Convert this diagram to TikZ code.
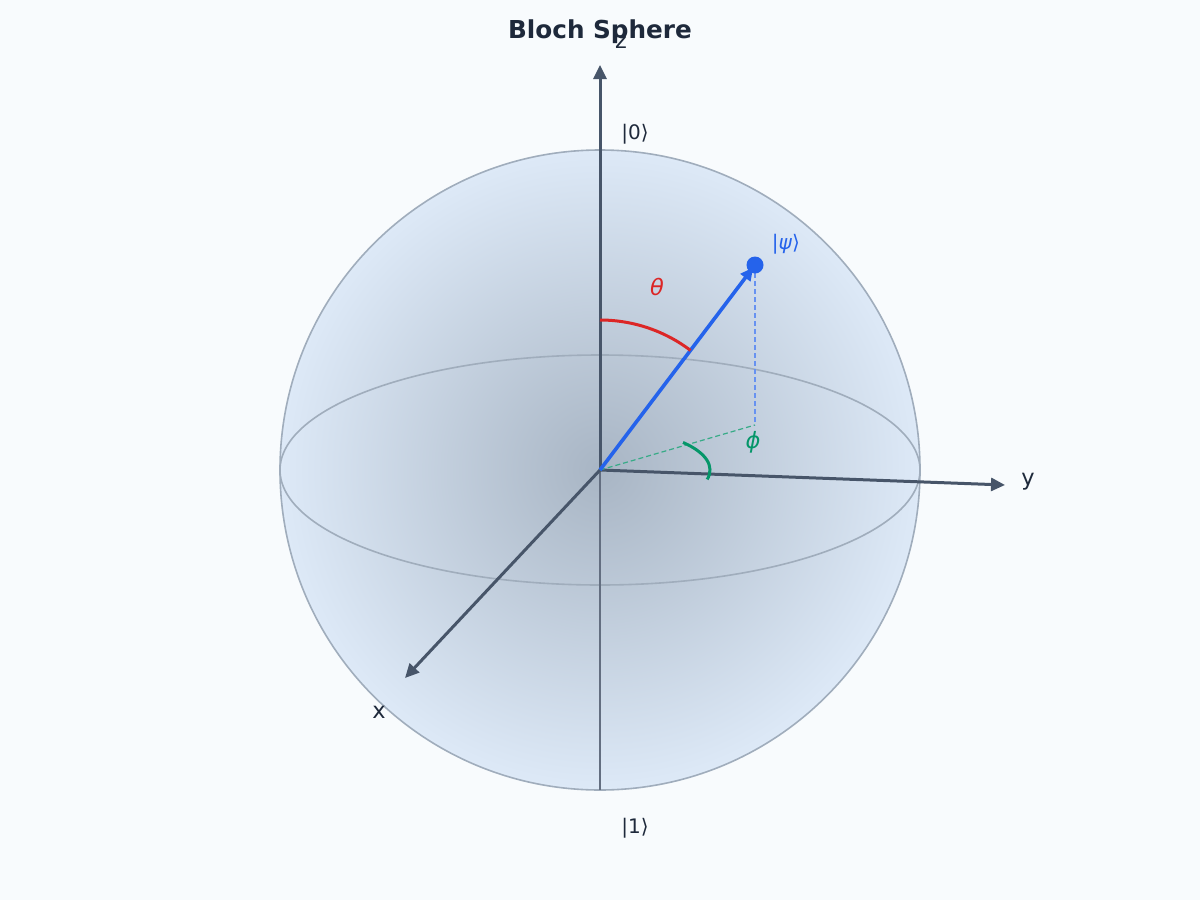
\documentclass[tikz,border=0pt]{standalone}
\usepackage{fontspec}
\setmainfont{DejaVu Sans}
\usetikzlibrary{arrows.meta,calc}

\definecolor{fundo}{HTML}{F8FBFD}
\definecolor{eixocor}{HTML}{475569}
\definecolor{bordacor}{HTML}{A0ADBC}
\definecolor{textocor}{HTML}{1E293B}
\definecolor{psicor}{HTML}{2563EB}
\definecolor{thetacor}{HTML}{DC2626}
\definecolor{phicor}{HTML}{059669}

\tikzset{
  eixo/.style={line width=3pt, draw=eixocor, -{Triangle[length=14pt,width=13pt]}},
  rotulo/.style={text=textocor, font=\fontsize{22.5}{26}\selectfont},
  ket/.style={text=textocor, font=\fontsize{20}{24}\selectfont}
}

\begin{document}
\begin{tikzpicture}[x=1pt, y=-1pt]
	% o fundo e a esfera
		\useasboundingbox[fill=fundo] (0,0) rectangle (1200,900);
		\coordinate (O) at (600,470);
		\shade[inner color={rgb,255:red,168;green,181;blue,196}, outer color={rgb,255:red,221;green,233;blue,247}]
			(O) circle (320);
		\draw[bordacor, line width=1.6pt] (O) circle (320);
		\draw[bordacor, line width=1.6pt] (O) ellipse (320 and 115);
		\coordinate (fundoEsfera) at (600,790);
		\draw[eixocor!85, line width=1.4pt] (O) -- (fundoEsfera);

	% os eixos
		\coordinate (zTopo) at (600,65);
		\coordinate (yPonta) at (1005,485);
		\coordinate (xPonta) at (405,678);
		\draw[eixo] (O) -- (zTopo);
		\draw[eixo] (O) -- (yPonta);
		\draw[eixo] (O) -- (xPonta);
		\node[rotulo] (zRot) at (621,42) {z};
		\node[rotulo] (yRot) at (1028,482) {y};
		\node[rotulo] (xRot) at (379,712) {x};
		\node[ket] (ket0) at (635,134) {|0⟩};
		\node[ket] (ket1) at (635,828) {|1⟩};

	% o vetor de estado e os angulos
		\coordinate (psi) at (755,265);
		\coordinate (proj) at (755,425);
		\draw[psicor!70, dashed, line width=1.2pt, dash pattern=on 5pt off 3pt] (psi) -- (proj);
		\draw[phicor!80, dashed, line width=1.2pt, dash pattern=on 5pt off 3pt] (O) -- (proj);
		\draw[psicor, line width=3.6pt, -{Triangle[length=13pt,width=12pt]}, shorten >=3pt] (O) -- (psi);
		\fill[psicor] (psi) circle (8.5);
		\node[ket, text=psicor] (psiRot) at (786,244) {|\textit{ψ}⟩};
		\draw[thetacor, line width=3pt] (600,320) arc (-90:-52.9:150);
		\node[rotulo, text=thetacor] (thetaRot) at (657,287) {\textit{θ}};
		\draw[phicor, line width=3pt] ($(O)+(-41:110 and 42)$) arc (-41:13:110 and 42);
		\node[rotulo, text=phicor] (phiRot) at (753,442) {\textit{ϕ}};

	% o titulo
		\node[text=textocor, font=\fontsize{24.7}{28}\selectfont\bfseries] (titulo) at (600,32) {Bloch Sphere};
\end{tikzpicture}
\end{document}
